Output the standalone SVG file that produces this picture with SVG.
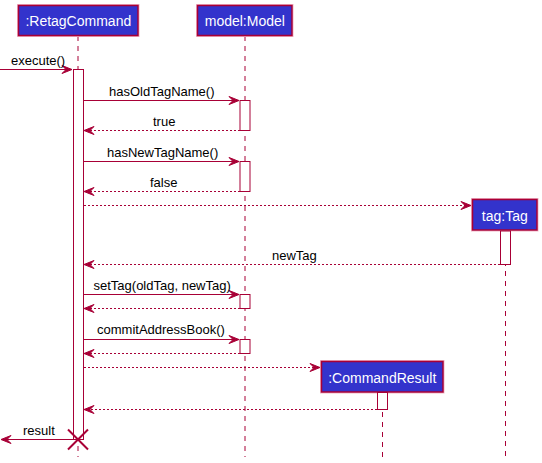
<svg xmlns="http://www.w3.org/2000/svg" width="542" height="463" viewBox="0 0 542 463">
<defs>
<style>
.box{fill:#3333CC;stroke:#A80036;stroke-width:1.5}
.halo{fill:none;stroke:#F2B6C8;stroke-width:1}
.btxt{font-family:"Liberation Sans",Arial,sans-serif;font-size:14px;fill:#FFFFFF}
.life{stroke:#A80036;stroke-width:1;stroke-dasharray:5,5;fill:none}
.act{fill:#FFFFFF;stroke:#A80036;stroke-width:1}
.msg{stroke:#A80036;stroke-width:1;fill:none}
.ret{stroke:#A80036;stroke-width:1;stroke-dasharray:2,2;fill:none}
.mtxt{font-family:"Liberation Sans",Arial,sans-serif;font-size:13px;fill:#000000}
.ah{fill:#A80036;stroke:#A80036;stroke-width:1}
</style>
</defs>
<rect width="542" height="463" fill="#FFFFFF"/>

<g id="lifelines">
<line class="life" x1="78" y1="36" x2="78" y2="457"/>
<line class="life" x1="245" y1="36" x2="245" y2="457"/>
<line class="life" x1="505.5" y1="231" x2="505.5" y2="457"/>
<line class="life" x1="382.5" y1="392" x2="382.5" y2="457"/>
</g>

<g id="RetagCommand">
<rect class="halo" x="17.5" y="4.5" width="121.5" height="32"/>
<rect class="box" x="18.5" y="5.5" width="119.5" height="30"/>
<text class="btxt" x="78.3" y="26" text-anchor="middle">:RetagCommand</text>
<rect class="act" x="73.5" y="69.5" width="10" height="370"/>
</g>

<g id="Model">
<rect class="halo" x="196.5" y="4.5" width="96.5" height="32"/>
<rect class="box" x="197.5" y="5.5" width="94.5" height="30"/>
<text class="btxt" x="244.8" y="26" text-anchor="middle">model:Model</text>
<rect class="act" x="240" y="100.5" width="10" height="30"/>
<rect class="act" x="240" y="161.5" width="10" height="30"/>
<rect class="act" x="240" y="294.5" width="10" height="14"/>
<rect class="act" x="240" y="339.5" width="10" height="14"/>
</g>

<g id="Tag">
<rect class="halo" x="471.5" y="198.5" width="66.5" height="32.5"/>
<rect class="box" x="472.5" y="199.5" width="64.5" height="30.5"/>
<text class="btxt" x="504.8" y="220.5" text-anchor="middle">tag:Tag</text>
<rect class="act" x="500.5" y="231" width="10" height="33.5"/>
</g>

<g id="CommandResult">
<rect class="halo" x="320.5" y="360.5" width="123.5" height="32.5"/>
<rect class="box" x="321.5" y="361.5" width="121.5" height="30.5"/>
<text class="btxt" x="382.3" y="383" text-anchor="middle">:CommandResult</text>
<rect class="act" x="377.5" y="392.5" width="10" height="17"/>
</g>

<g id="connectors">
<!-- execute -->
<line class="msg" x1="0" y1="69.5" x2="72" y2="69.5"/>
<polygon class="ah" points="62,65.5 72,69.5 62,73.5 66,69.5"/>
<text class="mtxt" x="11" y="65">execute()</text>

<!-- hasOldTagName -->
<line class="msg" x1="84" y1="100.5" x2="239" y2="100.5"/>
<polygon class="ah" points="229,96.5 239,100.5 229,104.5 233,100.5"/>
<text class="mtxt" x="109" y="95.5">hasOldTagName()</text>

<!-- true -->
<line class="ret" x1="240" y1="130.5" x2="84" y2="130.5"/>
<polygon class="ah" points="94,126.5 84,130.5 94,134.5 90,130.5"/>
<text class="mtxt" x="153" y="126">true</text>

<!-- hasNewTagName -->
<line class="msg" x1="84" y1="161.5" x2="239" y2="161.5"/>
<polygon class="ah" points="229,157.5 239,161.5 229,165.5 233,161.5"/>
<text class="mtxt" x="107" y="156.5">hasNewTagName()</text>

<!-- false -->
<line class="ret" x1="240" y1="191.5" x2="84" y2="191.5"/>
<polygon class="ah" points="94,187.5 84,191.5 94,195.5 90,191.5"/>
<text class="mtxt" x="150" y="187">false</text>

<!-- create tag -->
<line class="ret" x1="84" y1="205.5" x2="471" y2="205.5"/>
<polygon class="ah" points="461,201.5 471,205.5 461,209.5 465,205.5"/>

<!-- newTag -->
<line class="ret" x1="500" y1="264.5" x2="84" y2="264.5"/>
<polygon class="ah" points="94,260.5 84,264.5 94,268.5 90,264.5"/>
<text class="mtxt" x="272" y="259.5">newTag</text>

<!-- setTag -->
<line class="msg" x1="84" y1="294.5" x2="239" y2="294.5"/>
<polygon class="ah" points="229,290.5 239,294.5 229,298.5 233,294.5"/>
<text class="mtxt" x="93.5" y="290">setTag(oldTag, newTag)</text>

<!-- return -->
<line class="ret" x1="240" y1="308.5" x2="84" y2="308.5"/>
<polygon class="ah" points="94,304.5 84,308.5 94,312.5 90,308.5"/>

<!-- commitAddressBook -->
<line class="msg" x1="84" y1="339.5" x2="239" y2="339.5"/>
<polygon class="ah" points="229,335.5 239,339.5 229,343.5 233,339.5"/>
<text class="mtxt" x="97" y="333.5">commitAddressBook()</text>

<!-- return -->
<line class="ret" x1="240" y1="353.5" x2="84" y2="353.5"/>
<polygon class="ah" points="94,349.5 84,353.5 94,357.5 90,353.5"/>

<!-- create CommandResult -->
<line class="ret" x1="84" y1="367.5" x2="320" y2="367.5"/>
<polygon class="ah" points="310,363.5 320,367.5 310,371.5 314,367.5"/>

<!-- return from CommandResult -->
<line class="ret" x1="377" y1="409.5" x2="84" y2="409.5"/>
<polygon class="ah" points="94,405.5 84,409.5 94,413.5 90,409.5"/>

<!-- result -->
<line class="msg" x1="73" y1="439.5" x2="1" y2="439.5"/>
<polygon class="ah" points="11,435.5 1,439.5 11,443.5 7,439.5"/>
<text class="mtxt" x="23" y="435">result</text>

<!-- destroy -->
<line x1="68" y1="429.5" x2="88" y2="449.5" stroke="#A80036" stroke-width="2"/>
<line x1="88" y1="429.5" x2="68" y2="449.5" stroke="#A80036" stroke-width="2"/>
</g>
</svg>
